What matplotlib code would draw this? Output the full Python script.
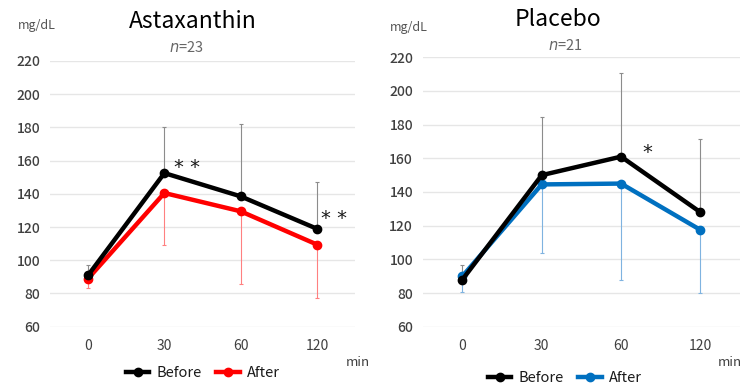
import numpy as np
import matplotlib.pyplot as plt

plt.rcParams['font.family'] = ['Noto Sans CJK JP', 'DejaVu Sans']

times = ['0', '30', '60', '120']

asta_before = [91, 152.5, 138.5, 119]
asta_after = [89, 140.5, 129.5, 109.5]
asta_before_sd = [6, 28, 43.5, 28]
asta_after_sd = [5.5, 31, 43.5, 32]

plac_before = [88, 150, 161, 128]
plac_after = [90, 144.5, 145, 117.5]
plac_before_sd = [8.5, 34.5, 49.5, 43.5]
plac_after_sd = [9.5, 41, 57.5, 37.5]

fig = plt.figure(figsize=(7.43, 3.85), dpi=100)
ax1 = fig.add_axes([0.0673, 0.1514, 0.4105, 0.6902])
ax2 = fig.add_axes([0.569, 0.1514, 0.427, 0.6998])

gray = '#404040'


def panel(ax, before, after, bsd, asd, acol, ecol):
    x = np.arange(len(times))
    ax.errorbar(x, before, yerr=[np.zeros(4), bsd], fmt='none', ecolor='#8c8c8c',
                elinewidth=0.8, capsize=1.5, capthick=0.8, zorder=2)
    ax.errorbar(x, after, yerr=[asd, np.zeros(4)], fmt='none', ecolor=ecol,
                elinewidth=0.8, capsize=1.5, capthick=0.8, zorder=2)
    ax.plot(x, before, color='black', lw=3.2, marker='o', ms=6, zorder=4, label='Before')
    ax.plot(x, after, color=acol, lw=3.2, marker='o', ms=6, zorder=3, label='After')
    ax.set_xlim(-0.5, 3.5)
    ax.set_ylim(60, 220)
    ax.set_yticks(range(60, 221, 20))
    ax.set_xticks(x)
    ax.set_xticklabels(times)
    ax.grid(axis='y', color='#e6e6e6', lw=1)
    ax.set_axisbelow(True)
    for s in ax.spines.values():
        s.set_visible(False)
    ax.tick_params(length=0, labelsize=10, colors=gray, pad=7)
    ax.tick_params(axis='x', pad=9)
    for lab in ax.get_yticklabels():
        lab.set_fontweight('medium')


panel(ax1, asta_before, asta_after, asta_before_sd, asta_after_sd, '#ff0000', '#ff8080')
panel(ax2, plac_before, plac_after, plac_before_sd, plac_after_sd, '#0070c0', '#7fb3e0')

# titles and labels
fig.text(193 / 743, 1 - 21 / 385, 'Astaxanthin', ha='center', va='center', fontsize=16.5)
fig.text(186 / 743, 1 - 47 / 385, '$n$=23', ha='center', va='center', fontsize=10.5, color='#666666')
fig.text(37 / 743, 1 - 26 / 385, 'mg/dL', ha='center', va='center', fontsize=9, color='#555555')
fig.text(558 / 743, 1 - 20 / 385, 'Placebo', ha='center', va='center', fontsize=16.5)
fig.text(565 / 743, 1 - 45 / 385, '$n$=21', ha='center', va='center', fontsize=10.5, color='#666666')
fig.text(409 / 743, 1 - 27 / 385, 'mg/dL', ha='center', va='center', fontsize=9, color='#555555')
fig.text(358 / 743, 1 - 362 / 385, 'min', ha='center', va='center', fontsize=9.5, color=gray)
fig.text(742 / 743, 1 - 363 / 385, 'min', ha='right', va='center', fontsize=9.5, color=gray)

# significance marks
star = dict(ha='center', va='center', fontsize=14, family='DejaVu Sans', color='#1a1a1a')
ax1.text(1.3, 156, '* *', **star)
ax1.text(3.22, 125, '* *', **star)
ax2.text(2.33, 163.5, '*', **star)

for ax, cx, y in ((ax1, 203, 373), (ax2, 565, 378)):
    ax.legend(loc='center', bbox_to_anchor=(cx / 743, 1 - y / 385),
              bbox_transform=fig.transFigure, frameon=False,
              ncol=2, fontsize=10.5, handlelength=1.6, columnspacing=1.0,
              handletextpad=0.5, labelcolor='#1a1a1a')

fig.savefig('out.png', dpi=100)
